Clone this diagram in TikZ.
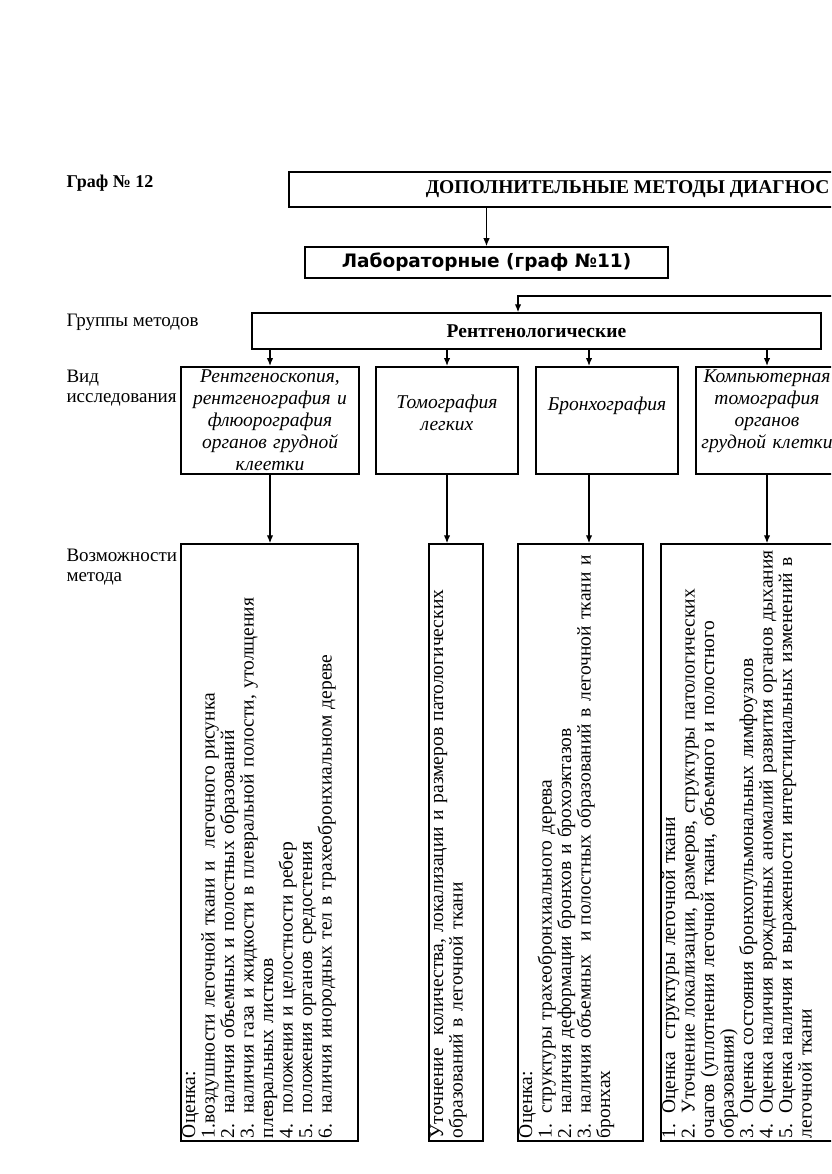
\documentclass[tikz,border=0pt]{standalone}
\usepackage{fontspec}
\setmainfont{Liberation Serif}
\newfontfamily\labfont{DejaVu Sans}
\usetikzlibrary{positioning, arrows.meta}

\begin{document}
\begin{tikzpicture}[
    x=1pt, y=-1pt,
    box/.style={draw, line width=1.5pt, inner sep=0pt},
    viewbox/.style={box, anchor=north, align=center, font=\fontsize{19.5}{22}\selectfont\itshape},
    capbox/.style={box, rotate=90, inner xsep=3pt, text width=591pt, text height=14pt, align=left, font=\fontsize{19.5}{19.5}\selectfont},
    side/.style={anchor=west, align=left, font=\fontsize{19}{20.5}\selectfont},
    arr/.style={-{Latex[length=8pt, width=6.5pt]}, line width=1.3pt}
]
    \fill[white] (0,0) rectangle (831,1174);
    \useasboundingbox (0,0) rectangle (831,1174);
    \clip (0,0) rectangle (831,1174);

    % left column
    \node[side, font=\fontsize{18}{20}\selectfont\bfseries] (graph) at (63,183) {Граф № 12};
    \node[side] (groups) at (63,322) {Группы методов};
    \node[side] (kind) at (63,388) {Вид\\исследования};
    \node[side] (scope) at (63,567) {Возможности\\метода};

    % head boxes
    \node[box, anchor=west, minimum height=35pt, inner xsep=137pt, font=\fontsize{19.5}{22}\selectfont\bfseries] (top) at (288,189.5) {ДОПОЛНИТЕЛЬНЫЕ МЕТОДЫ ДИАГНОС};
    \node[box, minimum width=363pt, minimum height=31pt, font=\labfont\fontsize{18.5}{22}\selectfont\bfseries] (lab) at (486.5,262.5) {Лабораторные (граф №11)};
    \node[box, minimum width=569pt, minimum height=36pt, font=\fontsize{19.5}{22}\selectfont\bfseries] (xray) at (536.5,331) {Рентгенологические};
    \coordinate (entry) at (840,296);

    % kinds of study
    \node[viewbox, text width=178pt, text height=16pt, text depth=91pt] (v1) at (270,366) {Рентгеноскопия,\\рентгенография и\\флюорография\\органов грудной\\клеетки};
    \node[viewbox, text width=142pt, text height=42pt, text depth=65pt] (v2) at (447,366) {Томография\\легких};
    \node[viewbox, text width=142pt, text height=44pt, text depth=63pt] (v3) at (607,366) {Бронхография};
    \node[viewbox, text width=142pt, text height=16pt, text depth=91pt] (v4) at (767,366) {Компьютерная\\томография\\органов\\грудной клетки};
    \coordinate (b3) at ([xshift=-18pt]v3.north);

    % what each method gives
    \node[capbox, text depth=163pt] (c1) at (269.5,842.5) {Оценка:\\1.воздушности легочной ткани и \ легочного рисунка\\2. наличия объемных и полостных образований\\3. наличия газа и жидкости в плевральной полости, утолщения\\плевральных листков\\4. положения и целостности ребер\\5. положения органов средостения\\6. наличия инородных тел в трахеобронхиальном дереве};
    \node[capbox, text depth=40pt] (c2) at (456,842.5) {Уточнение \ количества, локализации и размеров патологических\\образований в легочной ткани};
    \node[capbox, text depth=111pt] (c3) at (580.5,842.5) {Оценка:\\1. структуры трахеобронхиального дерева\\2. наличия деформации бронхов и брохоэктазов\\3. наличия объемных \ и полостных образований в легочной ткани и\\бронхах};
    \node[capbox, text depth=198pt] (c4) at (767,842.5) {1. Оценка \ структуры легочной ткани\\2. Уточнение локализации, размеров, структуры патологических\\очагов (уплотнения легочной ткани, объемного и полостного\\образования)\\3. Оценка состояния бронхопульмональных лимфоузлов\\4. Оценка наличия врожденных аномалий развития органов дыхания\\5. Оценка наличия и выраженности интерстициальных изменений в\\легочной ткани};

    \draw[arr] (top.south -| lab.north) -- (lab.north);
    \draw[arr] (entry) -| ([xshift=-18.5pt]xray.north);

    \draw[arr] (xray.south -| v1.north) -- (v1.north);
    \draw[arr] (xray.south -| v2.north) -- (v2.north);
    \draw[arr] (xray.south -| b3) -- (b3);
    \draw[arr] (xray.south -| v4.north) -- (v4.north);

    \draw[arr] (v1.south) -- (c1.east -| v1.south);
    \draw[arr] (v2.south) -- (c2.east -| v2.south);
    \draw[arr] (v3.south -| b3) -- (c3.east -| b3);
    \draw[arr] (v4.south) -- (c4.east);
\end{tikzpicture}
\end{document}
